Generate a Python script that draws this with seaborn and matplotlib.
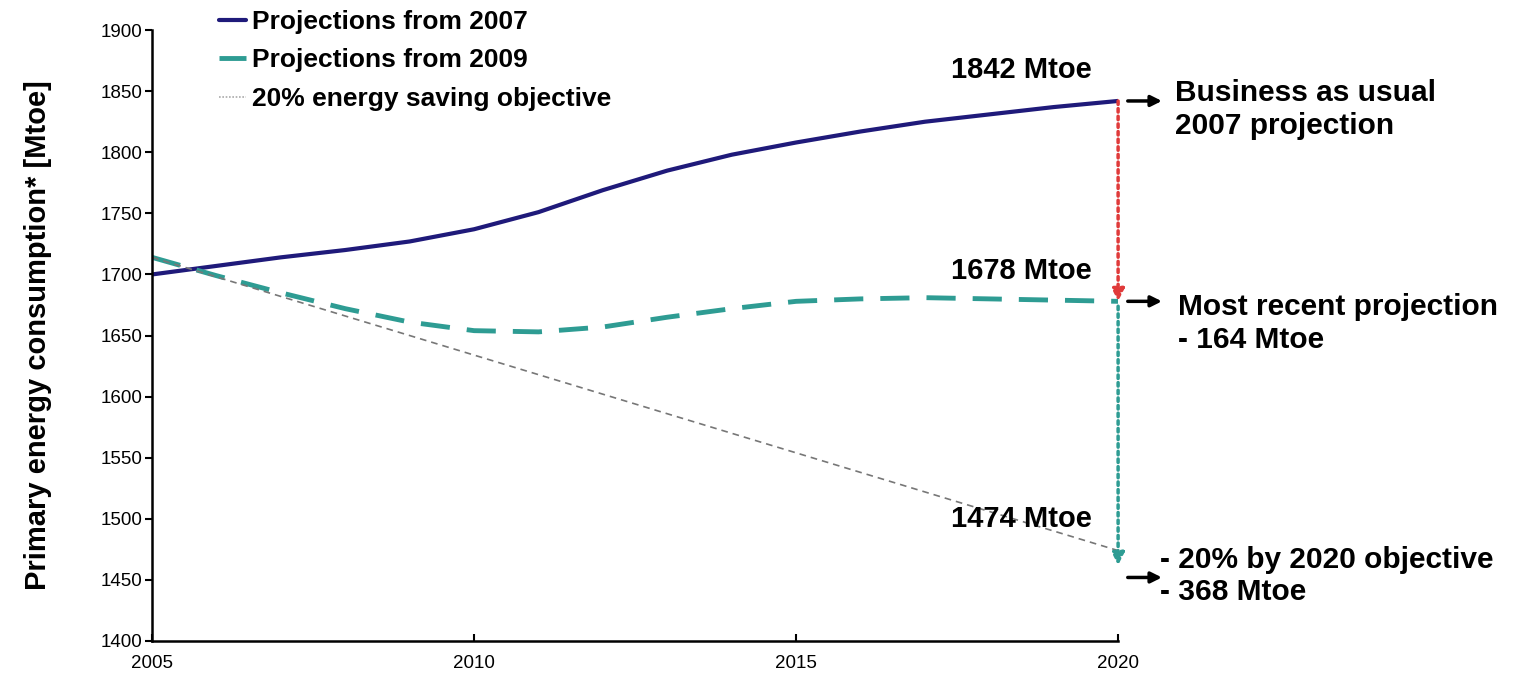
import numpy as np
import pandas as pd
import seaborn as sns
import matplotlib.pyplot as plt

# values
years = list(range(2005, 2021))
proj_2007 = [1700, 1707, 1714, 1720, 1727, 1737, 1751, 1769, 1785, 1798, 1808, 1817, 1825, 1831, 1837, 1842]
proj_2009 = [1714, 1699, 1685, 1672, 1661, 1654, 1653, 1657, 1665, 1672, 1678, 1680, 1681, 1680, 1679, 1678]
objective_years = [2005, 2020]
objective = [1714, 1474]

end_labels = ["1842 Mtoe", "1678 Mtoe", "1474 Mtoe"]
end_values = [1842, 1678, 1474]
right_notes = ["Business as usual\n2007 projection",
               "Most recent projection\n- 164 Mtoe",
               "- 20% by 2020 objective\n- 368 Mtoe"]

sns.set_style("ticks")
plt.rcParams['font.family'] = ['Liberation Sans Narrow', 'Liberation Sans', 'DejaVu Sans']
plt.rcParams['text.color'] = 'black'
plt.rcParams['xtick.color'] = 'black'
plt.rcParams['ytick.color'] = 'black'
plt.rcParams['axes.labelcolor'] = 'black'

navy = "#1f1a7a"
teal = "#2e9c93"

fig = plt.figure(figsize=(15.13, 6.95), dpi=100)
ax = fig.add_axes([0.1005, 0.0777, 0.6385, 0.879])

df07 = pd.DataFrame({"year": years, "value": proj_2007})
df09 = pd.DataFrame({"year": years, "value": proj_2009})
dfobj = pd.DataFrame({"year": objective_years, "value": objective})

sns.lineplot(data=df07, x="year", y="value", ax=ax, color=navy, lw=3,
             label="Projections from 2007")
sns.lineplot(data=df09, x="year", y="value", ax=ax, color=teal, lw=3.5,
             label="Projections from 2009")
ax.lines[-1].set_dashes([6, 3.5])
sns.lineplot(data=dfobj, x="year", y="value", ax=ax, color="#777777", lw=1.2,
             label="20% energy saving objective")
ax.lines[-1].set_dashes([4, 3])

ax.set_xlim(2005, 2020)
ax.set_ylim(1400, 1900)
ax.set_xticks([2005, 2010, 2015, 2020])
ax.set_yticks(np.arange(1400, 1901, 50))
ax.tick_params(axis="y", direction="out", length=5, width=1.5, labelsize=13.5, pad=2)
ax.tick_params(axis="x", direction="in", length=5, width=1.5, labelsize=13.5, pad=10)
for s in ["top", "right"]:
    ax.spines[s].set_visible(False)
for s in ["left", "bottom"]:
    ax.spines[s].set_linewidth(1.8)
    ax.spines[s].set_color("black")

ax.set_xlabel("")
ax.set_ylabel("Primary energy consumption* [Mtoe]", fontsize=21, fontweight="bold",
              family=['Liberation Sans', 'DejaVu Sans'], labelpad=35)

leg = ax.legend(loc="upper left", bbox_to_anchor=(0.045, 1.072), frameon=False,
                handlelength=1.0, handletextpad=0.25, labelspacing=0.55,
                prop={"size": 19, "weight": "bold"})
leg.legend_handles[2].set_color("#aaaaaa")
leg.legend_handles[2].set_dashes([1, 1])

# values at 2020
for lab, v, dy in zip(end_labels, end_values, [25, 25, 26]):
    ax.text(2018.5, v + dy, lab, ha="center", va="center", fontsize=21, fontweight="bold")

# vertical gap arrows
ax.annotate("", xy=(2020, end_values[1]), xytext=(2020, end_values[0]),
            arrowprops=dict(arrowstyle="-|>", color="#e03a3a", lw=2.5, ls=(0, (1, 1.2)),
                            mutation_scale=18, shrinkA=0, shrinkB=0), annotation_clip=False)
ax.annotate("", xy=(2020, 1462), xytext=(2020, end_values[1] - 4),
            arrowprops=dict(arrowstyle="-|>", color=teal, lw=2.5, ls=(0, (1, 1.2)),
                            mutation_scale=18, shrinkA=0, shrinkB=0), annotation_clip=False)

# short black arrows to the notes
for y in [1842, 1678, 1452]:
    ax.annotate("", xy=(2020.68, y), xytext=(2020.15, y),
                arrowprops=dict(arrowstyle="-|>", color="black", lw=2.5,
                                mutation_scale=16, shrinkA=0, shrinkB=0),
                annotation_clip=False)

for note, x, y in zip(right_notes, [2020.88, 2020.93, 2020.65], [1835, 1660, 1453]):
    ax.text(x, y, note, ha="left", va="center", fontsize=21.5, fontweight="bold",
            linespacing=1.2, clip_on=False)

fig.savefig("out.png", dpi=100)
